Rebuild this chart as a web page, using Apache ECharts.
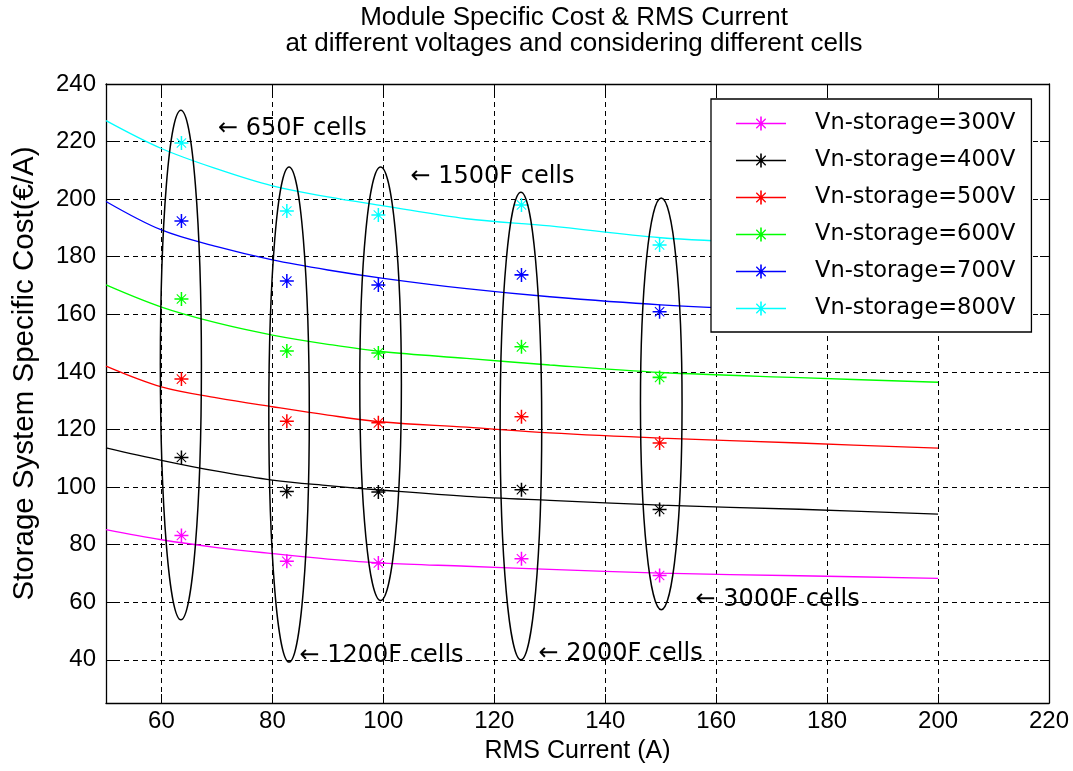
<!DOCTYPE html>
<html>
<head>
<meta charset="utf-8">
<script src="https://cdn.jsdelivr.net/npm/echarts@6/dist/echarts.min.js"></script>
<style>
  html, body { margin: 0; padding: 0; background: #ffffff; }
  #chart { width: 1073px; height: 771px; }
</style>
</head>
<body>
<div id="chart"></div>
<script>
// ---- text ----
const titleText = 'Module Specific Cost & RMS Current\nat different voltages and considering different cells';
const xAxisName = 'RMS Current (A)';
const yAxisName = 'Storage System Specific Cost(\u20AC/A)';

// ---- axis ticks ----
const xTicks = [60, 80, 100, 120, 140, 160, 180, 200, 220];
const yTicks = [40, 60, 80, 100, 120, 140, 160, 180, 200, 220, 240];

// ---- series ----
const seriesNames = ['Vn-storage=300V', 'Vn-storage=400V', 'Vn-storage=500V',
                     'Vn-storage=600V', 'Vn-storage=700V', 'Vn-storage=800V'];
const seriesColors = ['#ff00ff', '#000000', '#ff0000', '#00ff00', '#0000ff', '#00ffff'];

// fitted cost curves, sampled along the current axis
const curveCurrent = [50, 60, 70, 80, 90, 100, 115, 130, 150, 175, 200];
const curve300 = [85.2, 81.7, 79.0, 76.9, 75.0, 73.6, 72.5, 71.4, 70.1, 69.2, 68.3];
const curve400 = [113.6, 109.3, 105.5, 102.4, 100.5, 98.9, 96.8, 95.4, 93.7, 92.3, 90.6];
const curve500 = [142.0, 134.8, 131.0, 127.9, 125.0, 122.6, 120.8, 118.8, 117.0, 115.3, 113.5];
const curve600 = [170.2, 162.5, 157.0, 152.8, 149.6, 147.0, 144.7, 142.4, 139.8, 138.0, 136.4];
const curve700 = [199.2, 189.3, 183.5, 178.9, 175.4, 172.5, 168.9, 166.1, 163.3, 161.0, 159.3];
const curve800 = [227.3, 217.6, 210.5, 204.6, 200.8, 197.7, 193.2, 190.7, 186.6, 184.3, 182.5];

// computed module cost for each cell type
const cellCurrent = [63.6, 82.6, 99.1, 124.9, 149.8];
const cost300 = [83.2, 74.2, 73.6, 75.1, 69.3];
const cost400 = [110.3, 98.5, 98.3, 99.1, 92.2];
const cost500 = [137.5, 122.9, 122.3, 124.4, 115.3];
const cost600 = [165.3, 147.3, 146.6, 148.7, 138.1];
const cost700 = [192.4, 171.6, 170.2, 173.7, 160.9];
const cost800 = [219.5, 195.9, 194.5, 198.0, 184.1];

// ellipses grouping the points of one cell type (centre, half width, half height)
const ellipseCx = [63.5, 83.0, 99.5, 124.8, 150.1];
const ellipseCy = [142.4, 125.2, 135.9, 121.2, 128.9];
const ellipseRx = [3.7, 3.65, 3.75, 3.75, 3.75];
const ellipseRy = [88.5, 86.0, 75.3, 81.2, 71.5];

// cell type annotations
const noteLabels = ['\u2190 650F cells', '\u2190 1200F cells', '\u2190 1500F cells',
                    '\u2190 2000F cells', '\u2190 3000F cells'];
const noteX = [70.1, 84.8, 104.8, 127.9, 156.2];
const noteY = [224.3, 41.5, 207.9, 42.1, 61.0];

// ---- build ----
const curves = [curve300, curve400, curve500, curve600, curve700, curve800];
const costs = [cost300, cost400, cost500, cost600, cost700, cost800];

// '*' marker: plus and cross made of thin filled bars (24 x 24 box)
const starPath = 'path://' +
  'M10.7,0L13.3,0L13.3,24L10.7,24Z' +
  'M0,10.7L24,10.7L24,13.3L0,13.3Z' +
  'M4.64,3.36L20.64,19.36L19.36,20.64L3.36,4.64Z' +
  'M19.36,3.36L20.64,4.64L4.64,20.64L3.36,19.36Z';

// legend key: short line with '*' marker (50 x 14 box)
const legendPath = 'path://' +
  'M0,6.35L50,6.35L50,7.65L0,7.65Z' +
  'M24.2,0L25.8,0L25.8,14L24.2,14Z' +
  'M18,6.2L32,6.2L32,7.8L18,7.8Z' +
  'M20.75,1.85L30.15,11.25L29.25,12.15L19.85,2.75Z' +
  'M29.25,1.85L30.15,2.75L20.75,12.15L19.85,11.25Z';

const baseFont = 'Liberation Sans, Arial, sans-serif';
const boxFont = 'DejaVu Sans, sans-serif';

const series = [];
seriesNames.forEach((name, i) => {
  series.push({
    type: 'scatter',
    name: name,
    data: cellCurrent.map((x, k) => [x, costs[i][k]]),
    symbol: starPath,
    symbolSize: 14,
    itemStyle: { color: seriesColors[i], opacity: 1 },
    z: 3,
    silent: true
  });
});
seriesNames.forEach((name, i) => {
  series.push({
    type: 'line',
    name: name,
    data: curveCurrent.map((x, k) => [x, curves[i][k]]),
    smooth: 0.35,
    symbol: 'none',
    showSymbol: false,
    lineStyle: { color: seriesColors[i], width: 1.3 },
    itemStyle: { color: seriesColors[i] },
    z: 2,
    silent: true
  });
});
series.push({
  type: 'custom',
  name: 'cells',
  data: ellipseCx.map((cx, k) => [cx, ellipseCy[k], ellipseRx[k], ellipseRy[k]]),
  renderItem: function (params, api) {
    const cx = api.value(0), cy = api.value(1), rx = api.value(2), ry = api.value(3);
    const c = api.coord([cx, cy]);
    const e = api.coord([cx + rx, cy + ry]);
    return {
      type: 'ellipse',
      shape: { cx: c[0], cy: c[1], rx: Math.abs(e[0] - c[0]), ry: Math.abs(c[1] - e[1]) },
      style: { fill: 'none', stroke: '#000000', lineWidth: 1.5 }
    };
  },
  z: 4,
  silent: true
});
series.push({
  type: 'scatter',
  name: 'notes',
  data: noteX.map((x, k) => ({ value: [x, noteY[k]], name: noteLabels[k] })),
  symbolSize: 1,
  itemStyle: { color: 'rgba(0,0,0,0)', opacity: 1 },
  label: {
    show: true,
    position: 'right',
    distance: 0,
    formatter: '{b}',
    color: '#000000',
    opacity: 1,
    fontFamily: boxFont,
    fontSize: 24
  },
  z: 5,
  silent: true
});

const tickStyle = { show: true, inside: true, length: 9, lineStyle: { color: '#000', width: 1 } };
const lineAxis = { show: true, onZero: false, lineStyle: { color: '#000', width: 1.3 } };
const gridDash = { show: true, lineStyle: { color: '#000', width: 1, type: [5, 4] } };

const option = {
  animation: false,
  backgroundColor: '#ffffff',
  title: {
    text: titleText,
    left: 574,
    top: 5,
    textAlign: 'center',
    padding: 0,
    textStyle: { fontFamily: baseFont, fontSize: 26, fontWeight: 'normal', color: '#000', lineHeight: 26 }
  },
  grid: { left: 106, top: 84, right: 24, bottom: 68, containLabel: false },
  legend: {
    orient: 'vertical',
    left: 711,
    top: 99,
    padding: [13, 16, 12, 25],
    itemGap: 14,
    itemWidth: 50,
    itemHeight: 14,
    backgroundColor: '#ffffff',
    borderColor: '#000000',
    borderWidth: 1.3,
    borderRadius: 0,
    itemStyle: { borderWidth: 0, opacity: 1 },
    textStyle: { fontFamily: boxFont, fontSize: 22.5, color: '#000', lineHeight: 23, padding: [0, 0, 0, 24] },
    data: seriesNames.map(n => ({ name: n, icon: legendPath })),
    selectedMode: false
  },
  xAxis: [
    {
      type: 'value', position: 'bottom', min: 50, max: 220,
      name: xAxisName, nameLocation: 'middle', nameGap: 36,
      nameTextStyle: { fontFamily: baseFont, fontSize: 25, color: '#000' },
      axisLine: lineAxis,
      axisTick: Object.assign({ customValues: xTicks }, tickStyle),
      axisLabel: { customValues: xTicks, margin: 6, fontFamily: baseFont, fontSize: 24, color: '#000' },
      splitLine: gridDash
    },
    {
      type: 'value', position: 'top', min: 50, max: 220,
      axisLine: lineAxis,
      axisTick: Object.assign({ customValues: xTicks }, tickStyle),
      axisLabel: { show: false },
      splitLine: { show: false }
    }
  ],
  yAxis: [
    {
      type: 'value', position: 'left', min: 25, max: 240,
      name: yAxisName, nameLocation: 'middle', nameGap: 66, nameRotate: 90,
      nameTextStyle: { fontFamily: baseFont, fontSize: 29.5, color: '#000', padding: [0, 0, 0, 40] },
      axisLine: lineAxis,
      axisTick: Object.assign({ customValues: yTicks }, tickStyle),
      axisLabel: { customValues: yTicks, margin: 10, fontFamily: baseFont, fontSize: 24, color: '#000' },
      splitLine: gridDash
    },
    {
      type: 'value', position: 'right', min: 25, max: 240,
      axisLine: lineAxis,
      axisTick: Object.assign({ customValues: yTicks }, tickStyle),
      axisLabel: { show: false },
      splitLine: { show: false }
    }
  ],
  series: series
};

const chart = echarts.init(document.getElementById('chart'), null, { renderer: 'canvas' });
chart.setOption(option);
</script>
</body>
</html>
